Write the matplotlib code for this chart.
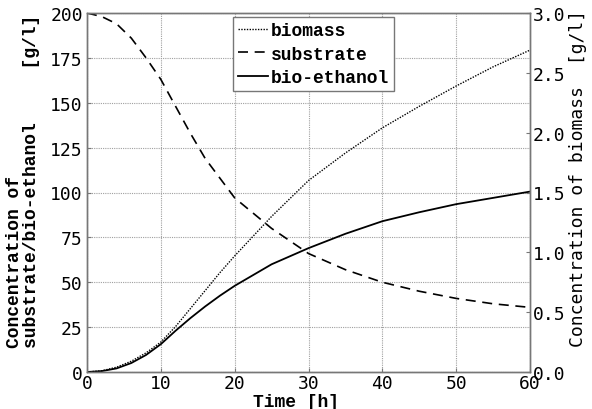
import matplotlib
matplotlib.use("Agg")
import matplotlib.pyplot as plt

# Fermentation time course
time_h = [0, 2, 4, 6, 8, 10, 12, 14, 16, 18, 20, 25, 30, 35, 40, 45, 50, 55, 60]
substrate = [200, 198, 194, 186, 175, 163, 148, 133, 119, 108, 97, 80, 66, 57, 50, 45, 41, 38, 36]
ethanol = [0, 0.5, 2, 5, 9.5, 15.5, 23, 30, 36.5, 42.5, 48, 60, 69, 77, 84, 89, 93.5, 97, 100.5]
biomass = [0, 0.01, 0.04, 0.09, 0.16, 0.25, 0.38, 0.53, 0.68, 0.83, 0.97, 1.30, 1.60, 1.83,
           2.04, 2.22, 2.39, 2.55, 2.69]

x_ticks = [0, 10, 20, 30, 40, 50, 60]
left_ticks = [0, 25, 50, 75, 100, 125, 150, 175, 200]
right_ticks = [0.0, 0.5, 1.0, 1.5, 2.0, 2.5, 3.0]

W, H = 592, 410
serif_bold = dict(family="Liberation Mono", weight="bold", size=13)
sans_mono = dict(family="DejaVu Sans Mono", size=13)
frame_col = "#777777"

fig = plt.figure(figsize=(W / 100, H / 100), dpi=100)
ax = fig.add_axes([87 / W, 1 - 373 / H, (530 - 87) / W, (373 - 14) / H])
ax2 = ax.twinx()

ax.set_xlim(0, 60)
ax.set_ylim(0, 200)
ax2.set_ylim(0, 3)

l_bio, = ax2.plot(time_h, biomass, color="black", linestyle=(0, (1, 1)), lw=1.0)
l_sub, = ax.plot(time_h, substrate, color="black", linestyle=(0, (6, 4)), lw=1.2)
l_eth, = ax.plot(time_h, ethanol, color="black", linestyle="-", lw=1.3)

ax.set_xticks(x_ticks)
ax.set_yticks(left_ticks)
ax2.set_yticks(right_ticks)
ax2.set_yticklabels([f"{v:.1f}" for v in right_ticks])
ax.grid(True, color="#a0a0a0", linestyle=(0, (1, 1)), lw=0.8)

ax.tick_params(axis="y", length=3, direction="in", color=frame_col, pad=3)
ax.tick_params(axis="x", length=3, direction="in", color=frame_col, pad=1.5)
ax2.tick_params(axis="y", length=3, direction="in", color=frame_col, pad=2)
for a in (ax, ax2):
    for lab in a.get_xticklabels() + a.get_yticklabels():
        lab.set_fontfamily(sans_mono["family"])
        lab.set_fontsize(sans_mono["size"])
    for sp in a.spines.values():
        sp.set_color(frame_col)
        sp.set_linewidth(1.0)

# Axis titles
fig.text(296 / W, (H - 407) / H, "Time [h]", ha="center", va="baseline", **serif_bold)
fig.text(23 / W, (H - 348) / H,
         "Concentration of\nsubstrate/bio-ethanol     [g/l]",
         rotation=90, ha="center", va="bottom", multialignment="left",
         linespacing=1.05, **serif_bold)
fig.text(578 / W, (H - 347) / H, "Concentration of biomass  [g/l]",
         rotation=90, ha="center", va="bottom", **sans_mono)

leg = ax.legend([l_bio, l_sub, l_eth], ["biomass", "substrate", "bio-ethanol"],
                loc="upper left", bbox_to_anchor=(232.5 / W, 1 - 18 / H),
                bbox_transform=fig.transFigure,
                prop=dict(family="Liberation Mono", weight="bold", size=13),
                frameon=True, fancybox=False, edgecolor=frame_col, framealpha=1,
                handlelength=1.65, handletextpad=0.15, borderpad=0.3,
                labelspacing=0.35, borderaxespad=0)
leg.get_frame().set_linewidth(1.0)

fig.savefig("out.png", dpi=100)
